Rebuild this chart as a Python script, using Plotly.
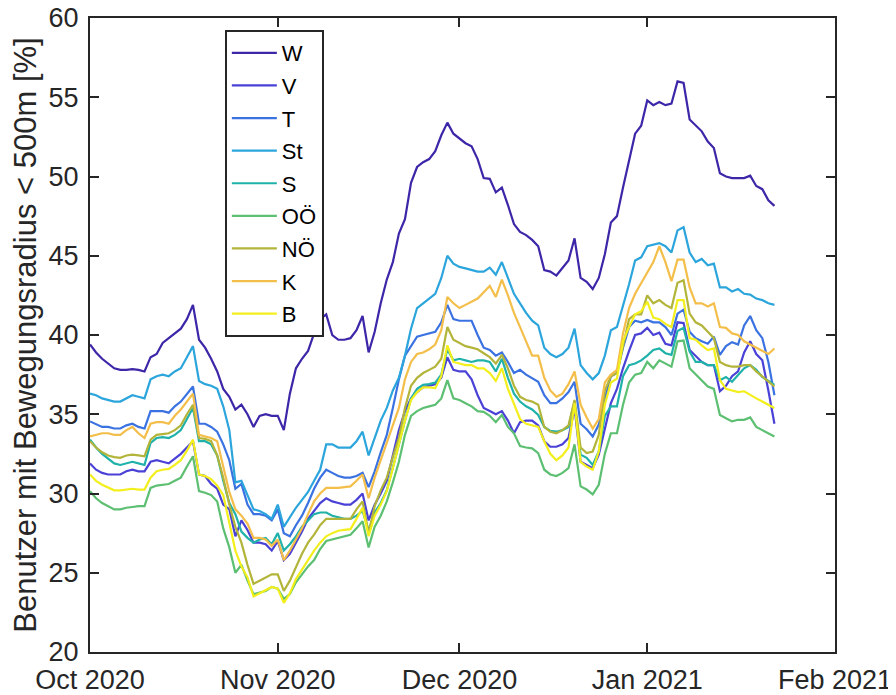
import pandas as pd
import plotly.graph_objects as go

start_date = "2020-10-01"

W = [39.4, 38.9, 38.5, 38.2, 37.9, 37.8, 37.8, 37.85, 37.8, 37.7,
     38.6, 38.8, 39.5, 39.8, 40.1, 40.4, 41.0, 41.9, 39.7, 39.2,
     38.5, 37.7, 36.6, 36.1, 35.3, 35.6, 35.0, 34.2, 34.9, 35.0,
     34.9, 34.9, 34.0, 36.3, 37.9, 38.5, 39.0, 40.1, 41.0, 41.3,
     40.0, 39.7, 39.7, 39.8, 40.3, 41.2, 38.9, 40.2, 42.0, 43.5,
     44.6, 46.4, 47.3, 49.6, 50.6, 50.9, 51.1, 51.6, 52.6, 53.4,
     52.7, 52.4, 52.1, 51.9, 51.1, 49.9, 49.85, 49.0, 49.3, 48.2,
     47.0, 46.5, 46.3, 46.0, 45.6, 44.1, 44.0, 43.75, 44.2, 44.7,
     46.1, 43.6, 43.35, 42.9, 43.6, 45.1, 47.1, 47.5, 49.3, 51.0,
     52.7, 53.2, 54.8, 54.5, 54.7, 54.5, 54.6, 56.0, 55.9, 53.6,
     53.2, 52.85, 52.2, 51.8, 50.2, 50.0, 49.9, 49.9, 49.9, 50.05,
     49.4, 49.2, 48.5, 48.15]

V = [31.9, 31.5, 31.3, 31.2, 31.2, 31.2, 31.4, 31.5, 31.4, 31.4,
     32.0, 32.1, 32.0, 31.9, 32.2, 32.5, 32.9, 33.3, 31.2, 31.1,
     30.6, 30.3, 29.3, 29.0, 27.3, 28.3, 27.7, 26.9, 26.9, 26.8,
     26.4, 27.0, 25.8, 26.2, 26.9, 27.6, 28.4, 28.9, 29.4, 29.7,
     29.5, 29.4, 29.3, 29.3, 29.6, 30.0, 28.3, 29.3, 30.0, 30.8,
     32.4, 34.0, 35.2, 36.0, 36.4, 36.7, 36.8, 36.9, 37.3, 38.6,
     37.8, 37.7, 37.7, 37.2, 36.2, 35.4, 35.2, 35.0, 35.2, 34.6,
     33.8, 34.5, 34.6, 34.6, 34.3, 33.3, 32.95, 32.95, 33.1, 33.5,
     35.4, 32.0, 31.8, 31.6, 32.45, 34.0, 35.7, 36.6, 37.9, 39.0,
     40.0, 40.1, 40.45, 40.0, 40.15, 39.45, 39.35, 40.8, 40.75, 39.05,
     38.7, 38.3, 38.1, 38.1, 36.45, 36.8, 37.4, 37.7, 38.9, 39.6,
     38.8, 38.4, 36.5, 34.4]

T = [34.55, 34.4, 34.2, 34.2, 34.1, 34.1, 34.3, 34.4, 34.2, 34.1,
     35.2, 35.2, 35.2, 35.1, 35.5, 35.8, 36.3, 36.75, 34.4, 34.4,
     34.2, 33.9, 33.1, 32.1, 30.3, 30.6, 29.3, 28.7, 28.7, 28.6,
     28.3, 29.0, 27.5, 27.3, 28.0, 28.6, 29.4, 30.3, 31.0, 31.5,
     31.3, 31.1, 31.0, 31.0, 31.1, 31.3, 30.4, 31.4, 32.6, 33.7,
     35.4, 37.2, 38.7, 39.3, 39.9, 40.0, 40.1, 40.2, 40.8, 41.9,
     41.0, 40.9, 40.9, 40.9, 40.0, 39.2, 39.05, 38.7, 38.9, 38.3,
     37.6, 37.8, 37.5, 37.3, 37.05, 36.2, 35.7, 35.7, 36.0, 36.4,
     37.05, 34.4, 34.05, 33.6, 34.35, 36.0, 37.4, 37.6, 39.2, 40.5,
     40.9, 40.8, 40.95, 40.8, 40.8, 40.5, 40.0, 41.35, 41.6, 40.2,
     39.8, 39.6, 39.45, 39.9, 38.75, 39.3, 39.55, 39.4, 40.6, 41.2,
     40.3, 39.8, 38.3, 36.2]

St = [36.3, 36.2, 36.0, 35.9, 35.8, 35.8, 36.0, 36.2, 36.1, 36.0,
      37.2, 37.4, 37.5, 37.4, 37.7, 37.9, 38.6, 39.3, 37.1, 36.9,
      36.8, 36.6, 35.5, 34.0, 30.7, 30.8, 29.9, 29.0, 28.9, 28.7,
      28.4, 29.3, 27.9, 28.5, 29.1, 29.6, 30.1, 30.8, 31.5, 33.1,
      33.1, 32.9, 32.9, 32.9, 33.3, 33.9, 32.4, 33.5, 34.6, 35.4,
      36.5, 37.3, 38.7, 40.4, 41.7, 42.0, 42.3, 42.6, 43.6, 45.0,
      44.5, 44.3, 44.2, 44.1, 44.0, 44.0, 44.25, 43.8, 44.6, 43.6,
      42.6, 42.0, 41.4, 40.9, 40.6, 39.2, 38.8, 38.6, 38.8, 39.2,
      40.4, 38.1, 37.6, 37.2, 37.6, 38.7, 40.3, 40.5, 41.8, 43.2,
      44.7, 44.9, 45.6, 45.7, 45.8, 45.6, 45.2, 46.6, 46.8, 45.2,
      44.6, 44.8, 44.4, 44.5, 43.0, 43.0, 42.75, 42.9, 42.6, 42.55,
      42.3, 42.2, 42.0, 41.9]

S = [33.4, 32.9, 32.5, 32.2, 31.9, 31.8, 31.9, 32.0, 31.9, 31.8,
     33.2, 33.5, 33.55, 33.5, 33.7, 34.0, 34.7, 35.4, 33.3, 33.3,
     33.1, 32.4, 30.8, 29.4, 28.7, 27.6, 27.2, 26.9, 27.1, 27.2,
     26.8, 27.5, 26.4, 26.8, 27.3, 27.9, 28.3, 28.7, 28.8, 28.8,
     28.6, 28.5, 28.4, 28.4, 28.6, 28.9, 27.65, 28.8, 29.4, 30.2,
     31.6, 33.1, 34.6, 36.0, 36.6, 36.85, 36.9, 37.0, 37.5, 39.1,
     38.4, 38.5, 38.4, 38.3, 38.4, 38.4, 38.3, 37.7, 38.5, 37.3,
     36.3, 35.8, 35.5, 35.3, 34.95, 34.2, 33.95, 33.9, 34.0, 34.2,
     35.8, 32.45, 32.25, 31.8, 32.65, 34.9, 35.5, 35.5, 37.4, 38.1,
     38.2, 38.4, 38.7, 39.05, 39.15, 38.85, 38.75, 40.25, 40.45, 38.95,
     38.3, 38.3, 38.1, 38.1, 37.15, 37.35, 37.05, 37.5, 37.9, 38.1,
     37.8, 37.35, 37.1, 36.85]

OOe = [30.15, 29.7, 29.4, 29.2, 29.0, 29.0, 29.1, 29.15, 29.2, 29.2,
       30.35, 30.5, 30.55, 30.6, 30.8, 31.0, 31.7, 32.35, 30.15, 30.05,
       29.9, 29.5, 27.8, 26.6, 25.0, 25.5, 24.5, 23.65, 23.75, 23.85,
       24.1, 24.0, 23.35, 23.65, 24.4, 24.9, 25.4, 25.8, 26.5, 27.0,
       27.1, 27.2, 27.3, 27.4, 27.8, 28.25, 26.6, 27.9, 28.6, 29.5,
       30.7, 32.0, 33.7, 34.9, 35.2, 35.4, 35.5, 35.6, 36.0, 37.15,
       36.0, 35.9, 35.7, 35.5, 35.2, 35.15, 34.9, 34.5, 34.95, 34.2,
       33.8, 33.0, 32.9, 32.85, 32.55, 31.5, 31.2, 31.1, 31.3, 31.6,
       33.1, 30.45, 30.25, 29.95, 30.55, 32.5, 33.8, 33.8, 35.6, 37.0,
       37.5, 37.6, 38.3, 37.9, 38.4, 38.2, 38.0, 39.6, 39.65, 37.9,
       37.5, 37.15, 36.75, 36.6, 34.95, 34.75, 34.55, 34.65, 34.65, 34.8,
       34.2, 34.0, 33.8, 33.6]

NOe = [33.3, 32.9, 32.6, 32.4, 32.3, 32.25, 32.4, 32.45, 32.4, 32.35,
       33.4, 33.7, 33.75, 33.8, 34.0, 34.3, 35.0, 35.6, 33.5, 33.45,
       33.3, 32.4, 31.0, 29.3, 27.9, 26.9, 25.5, 24.3, 24.5, 24.7,
       24.9, 24.9, 23.85, 24.5, 25.4, 26.2, 26.9, 27.4, 28.0, 28.4,
       28.4, 28.4, 28.4, 28.4, 29.0, 29.5, 27.5, 29.2, 30.2, 31.0,
       32.3, 33.5, 35.4, 36.8, 37.3, 37.6, 37.8, 38.0, 38.5, 40.5,
       39.7, 39.5, 39.3, 39.2, 39.1, 38.85, 38.6, 38.2, 38.75, 37.9,
       36.8, 36.1, 35.9, 35.8, 35.6, 34.2, 33.9, 33.8, 34.0, 34.3,
       35.9, 32.9, 32.55, 32.65, 33.7, 36.5, 37.4, 37.6, 39.3, 41.0,
       41.3, 41.3, 42.5, 42.0, 42.2, 41.9, 41.7, 43.3, 43.45, 41.35,
       40.8, 40.6, 40.2, 39.8, 38.3, 38.1, 38.0, 38.0, 38.1, 38.1,
       37.7, 37.4, 37.1, 36.75]

K = [33.6, 33.7, 33.8, 33.8, 33.7, 33.7, 34.0, 34.2, 33.8, 33.5,
     34.4, 34.5, 34.5, 34.4, 34.9, 35.3, 35.8, 36.3, 33.7, 33.6,
     33.5, 33.3, 31.6, 30.1, 29.0, 28.6, 28.1, 27.2, 27.2, 27.1,
     26.7, 27.1, 25.8, 26.4, 27.1, 27.8, 28.7, 29.5, 30.0, 30.35,
     30.35, 30.35, 30.4, 30.45, 30.8, 31.2, 29.7, 31.0, 32.1, 33.2,
     34.3, 35.4, 37.2, 38.3, 38.8, 38.9, 39.1, 39.4, 40.3, 42.4,
     42.0, 41.7, 41.9, 42.1, 42.3, 42.7, 43.1, 42.4, 43.5, 42.5,
     41.4, 40.5, 39.6, 38.7, 38.7, 37.3, 36.5, 36.1, 36.3, 36.9,
     37.7, 35.6, 34.8, 34.1, 34.7, 37.0, 37.5, 37.8, 40.1, 41.7,
     42.6, 43.3, 44.0, 44.6, 45.6, 44.6, 43.4, 44.75, 44.75, 43.0,
     42.0, 42.0, 41.8, 42.0, 40.5, 40.45, 40.1, 40.0, 39.6, 39.4,
     39.2, 39.05, 38.8, 39.15]

B = [31.2, 30.8, 30.55, 30.35, 30.2, 30.2, 30.25, 30.3, 30.25, 30.25,
     31.0, 31.4, 31.5, 31.55, 31.8, 32.1, 32.7, 33.4, 31.2, 31.1,
     30.9, 30.5, 29.9, 28.2, 26.4, 25.4, 24.7, 23.5, 23.7, 23.9,
     24.1, 24.0, 23.1, 23.7, 24.6, 25.2, 25.8, 26.4, 26.9, 27.3,
     27.5, 27.65, 27.7, 27.75, 28.4, 29.1, 27.3, 28.6, 29.3, 30.15,
     31.6, 33.1, 34.6, 35.9, 36.4, 36.7, 36.7, 36.65, 37.4, 39.35,
     38.3, 38.2, 38.1, 38.1, 37.9, 37.9, 37.6, 37.1, 37.9, 36.6,
     35.7, 34.7, 34.4, 34.3, 34.2, 33.3, 32.5, 32.1, 32.4, 32.9,
     35.7, 32.0, 31.7, 31.5, 32.65, 35.6, 37.0, 37.25, 39.6, 40.5,
     41.3, 41.5, 42.1, 41.1, 41.0, 40.7, 40.5, 42.2, 42.2, 39.8,
     39.7, 39.35, 39.05, 39.15, 37.15, 36.6, 36.5, 36.4, 36.45, 36.2,
     36.0, 35.8, 35.6, 35.4]

names = ["W", "V", "T", "St", "S", "OÖ", "NÖ", "K", "B"]
series = [W, V, T, St, S, OOe, NOe, K, B]
colors = ["#3E26A8", "#4A41D6", "#3B72E1", "#2BA5DC", "#20B2AA",
          "#5CBF72", "#B3B43A", "#F4BE4A", "#F3EF1D"]

tick_dates = ["2020-10-01", "2020-11-01", "2020-12-01", "2021-01-01", "2021-02-01"]
tick_text = ["Oct 2020", "Nov 2020", "Dec 2020", "Jan 2021", "Feb 2021"]
y_ticks = [20, 25, 30, 35, 40, 45, 50, 55, 60]

dates = pd.date_range(start_date, periods=len(W), freq="D")

FONT = "Liberation Sans, Arial, Helvetica, sans-serif"
AX = "#262626"

fig = go.Figure()
for nm, vals, col in zip(names, series, colors):
    fig.add_trace(go.Scatter(x=dates, y=vals, mode="lines", name=nm,
                             legendgroup=nm,
                             line=dict(color=col, width=2.2)))

# the page body adds an 8px offset, so the figure is 8px smaller on each axis
fig.update_layout(
    width=888, height=687,
    margin=dict(l=82, r=61, t=10, b=43),
    paper_bgcolor="white", plot_bgcolor="white",
    font=dict(family=FONT, color=AX, size=27),
    showlegend=True,
    legend=dict(x=0.181, y=0.981, xanchor="left", yanchor="top",
                bgcolor="white", bordercolor=AX, borderwidth=2,
                font=dict(size=22, color="black"), tracegroupgap=1,
                itemwidth=45),
)
fig.update_xaxes(
    type="date", range=[tick_dates[0], tick_dates[-1]],
    tickvals=tick_dates, ticktext=tick_text, automargin=False,
    showline=True, linecolor=AX, linewidth=2, mirror="ticks",
    ticks="inside", ticklen=9, tickwidth=1.5, tickcolor=AX,
    showgrid=False, zeroline=False, ticklabelstandoff=3,
    ticklabeloverflow="allow",
    tickfont=dict(size=27, color=AX),
)
fig.update_yaxes(
    range=[20, 60], tickvals=y_ticks, automargin=False,
    showline=True, linecolor=AX, linewidth=2, mirror="ticks",
    ticks="inside", ticklen=9, tickwidth=1.5, tickcolor=AX,
    showgrid=False, zeroline=False, ticklabelstandoff=4,
    ticklabeloverflow="allow",
    tickfont=dict(size=27, color=AX),
    title=dict(text="Benutzer mit Bewegungsradius &lt; 500m [%]",
               font=dict(size=31, color=AX), standoff=12),
)

fig.write_html("out.html")
